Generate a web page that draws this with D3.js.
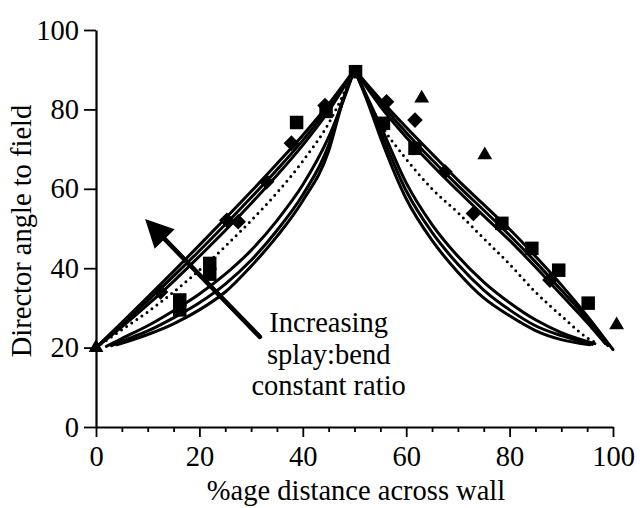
<!DOCTYPE html>
<html>
<head>
<meta charset="utf-8">
<script src="https://cdn.jsdelivr.net/npm/d3@7"></script>
<style>
  html, body { margin: 0; padding: 0; background: #fff; }
  svg { display: block; }
  text { font-family: "Liberation Serif", "Times New Roman", Times, serif; fill: #000; }
</style>
</head>
<body>
<svg id="chart" width="642" height="508"></svg>
<script>
// Model curves: director angle (deg) against position across the wall (%)
// Upper family (near-linear profiles)
const curveA1 = [[0,20],[5,26.3],[10,32.7],[15,39.2],[20,45.8],[25,52.5],[30,59.3],[35,66.3],[40,73.5],[45,81.3],[50,90],
                 [55,82.5],[60,75.5],[65,68.8],[70,62.2],[75,56],[80,49.8],[85,43],[90,35.8],[95,28],[100,19.5]];
const curveA2 = [[0,20],[5,25.8],[10,31.8],[15,38],[20,44.4],[25,51],[30,57.8],[35,64.8],[40,72.2],[45,80.5],[50,90],
                 [55,81.7],[60,74.2],[65,67.3],[70,60.8],[75,54.6],[80,48.3],[85,41.6],[90,34.5],[95,27.2],[99,20.5]];
const curveA3 = [[0,20],[5,25.2],[10,30.8],[15,36.7],[20,43],[25,49.5],[30,56.3],[35,63.4],[40,71],[45,79.6],[50,90],
                 [55,80.8],[60,73],[65,66],[70,59.5],[75,53.2],[80,47],[85,40.3],[90,33.3],[95,26.3],[98.5,21]];
// Intermediate profile (dotted)
const curveDotted = [[0,20],[5,24.5],[10,29],[15,34],[20,39.5],[25,45.5],[30,52],[35,59],[40,67],[45,76.5],[50,90],
                     [55,76.5],[60,67.5],[65,60],[70,54],[75,47.5],[80,41],[85,34],[90,28],[95,22.5],[97,21]];
// Lower family (strongly curved profiles)
const curveB1 = [[2,20.3],[5,22.3],[10,25.5],[15,29.3],[20,33.5],[25,38.5],[30,44.5],[35,52],[40,61],[45,73],[50,90],
                 [55,76],[60,61.5],[65,51],[70,43],[75,36.5],[80,31.3],[85,27],[90,23.8],[96.5,21]];
const curveB2 = [[3,20.5],[5,21.6],[10,24.2],[15,27.5],[20,31.3],[25,36],[30,42],[35,49.5],[40,58.5],[45,71],[47.5,81.5],[50,90],
                 [52.5,82.5],[55,74.5],[60,59.5],[65,49],[70,41],[75,34.5],[80,29.5],[85,25.5],[90,23],[96,20.8]];
const curveB3 = [[4,20.7],[10,23.3],[15,26],[20,29.5],[25,34],[30,40.5],[35,48],[40,57],[45,69.5],[47.5,81],[50,90],
                 [52.5,82],[55,73],[60,57.5],[65,47],[70,39],[75,32.5],[80,28],[85,24.3],[90,22],[95.5,20.7]];

// Measured director angles
const squarePoints = [[16.2,32],[16.2,29.5],[22,41.2],[22,38.5],[38.8,76.7],[44.5,79.5],[50.2,89.5],
                      [55.6,76.5],[61.7,70.2],[78.5,51.3],[84.3,45],[89.5,39.5],[95.2,31.2]];
const diamondPoints = [[12.5,34],[25.3,52.1],[27.5,51.7],[33,61.8],[37.8,71.5],[44.3,81],
                       [56.2,81.9],[61.7,77.3],[67.5,64.3],[73,53.8],[87.8,37]];
const trianglePoints = [[0,20],[63,82.8],[75.2,68.5],[100.7,25.7]];

// Axis ticks
const xMajorTicks = [0, 20, 40, 60, 80, 100];
const xMinorTicks = [5, 10, 15, 25, 30, 35, 45, 50, 55, 65, 70, 75, 85, 90, 95];
const yTicks = [0, 20, 40, 60, 80, 100];

// Labels
const xTitle = "%age distance across wall";
const yTitle = "Director angle to field";
const noteLines = ["Increasing", "splay:bend", "constant ratio"];
const arrowFrom = [31.7, 22.7];
const arrowTo = [9.5, 52.4];
const noteAnchor = [45, 23.9];

const W = 642, H = 508;
const margin = { left: 96, right: 29, top: 30, bottom: 81 };
const FS = 28.5;

const svg = d3.select("#chart");
const x = d3.scaleLinear().domain([0, 100]).range([margin.left, W - margin.right]);
const y = d3.scaleLinear().domain([0, 100]).range([H - margin.bottom, margin.top]);

// axes
svg.append("g").attr("transform", `translate(0,${y(0)})`)
  .call(d3.axisBottom(x).tickValues(xMajorTicks).tickSize(10).tickPadding(9).tickSizeOuter(0).tickFormat(d3.format("d")));
const gxMinor = svg.append("g").attr("transform", `translate(0,${y(0)})`)
  .call(d3.axisBottom(x).tickValues(xMinorTicks).tickSize(5).tickSizeOuter(0).tickFormat(""));
gxMinor.select(".domain").remove();
svg.append("g").attr("transform", `translate(${x(0)},0)`)
  .call(d3.axisLeft(y).tickValues(yTicks).tickSize(12).tickPadding(5).tickSizeOuter(0).tickFormat(d3.format("d")));

svg.selectAll(".domain").attr("stroke", "#000").attr("stroke-width", 2.2);
svg.selectAll(".tick line").attr("stroke", "#000").attr("stroke-width", 1.8);
svg.selectAll(".tick text").attr("font-size", FS).attr("font-family", null).attr("fill", "#000");

// axis titles
svg.append("text").attr("x", 356).attr("y", 500).attr("text-anchor", "middle")
  .attr("font-size", FS).text(xTitle);
svg.append("text").attr("transform", `translate(31,${231}) rotate(-90)`).attr("text-anchor", "middle")
  .attr("font-size", FS).text(yTitle);

// curves, drawn as two branches meeting at the mid-wall peak
const line = d3.line().x(d => x(d[0])).y(d => y(d[1])).curve(d3.curveMonotoneX);
function branches(c) {
  return [c.filter(d => d[0] <= 50), c.filter(d => d[0] >= 50)];
}
const plot = svg.append("g");
[curveA1, curveA2, curveA3, curveB1, curveB2, curveB3].forEach(c => {
  branches(c).forEach(b => {
    plot.append("path").attr("d", line(b)).attr("fill", "none")
      .attr("stroke", "#000").attr("stroke-width", 3).attr("stroke-linejoin", "round").attr("stroke-linecap", "round");
  });
});
branches(curveDotted).forEach(b => {
  plot.append("path").attr("d", line(b)).attr("fill", "none")
    .attr("stroke", "#000").attr("stroke-width", 3).attr("stroke-linecap", "round")
    .attr("stroke-dasharray", "0 6.2");
});

// data markers
const marks = svg.append("g");
marks.selectAll(".sq").data(squarePoints).join("path")
  .attr("transform", d => `translate(${x(d[0])},${y(d[1])})`)
  .attr("d", d3.symbol(d3.symbolSquare, 13.5 * 13.5)).attr("fill", "#000");
marks.selectAll(".dm").data(diamondPoints).join("path")
  .attr("transform", d => `translate(${x(d[0])},${y(d[1])}) rotate(45)`)
  .attr("d", d3.symbol(d3.symbolSquare, 11 * 11)).attr("fill", "#000");
marks.selectAll(".tr").data(trianglePoints).join("path")
  .attr("transform", d => `translate(${x(d[0])},${y(d[1])})`)
  .attr("d", d3.symbol(d3.symbolTriangle, 95)).attr("fill", "#000");

// annotation arrow
const ax0 = x(arrowFrom[0]), ay0 = y(arrowFrom[1]);
const ax1 = x(arrowTo[0]), ay1 = y(arrowTo[1]);
const len = Math.hypot(ax1 - ax0, ay1 - ay0);
const ux = (ax1 - ax0) / len, uy = (ay1 - ay0) / len;
const headLen = 28, headHalf = 14;
const bx = ax1 - ux * headLen, by = ay1 - uy * headLen;
svg.append("line").attr("x1", ax0).attr("y1", ay0).attr("x2", bx + ux * 4).attr("y2", by + uy * 4)
  .attr("stroke", "#000").attr("stroke-width", 4.6).attr("stroke-linecap", "round");
svg.append("path")
  .attr("d", `M${ax1},${ay1}L${bx - uy * headHalf},${by + ux * headHalf}L${bx + uy * headHalf},${by - ux * headHalf}Z`)
  .attr("fill", "#000");

// annotation text
const note = svg.append("text").attr("text-anchor", "middle").attr("font-size", FS);
noteLines.forEach((t, i) => {
  note.append("tspan").attr("x", x(noteAnchor[0])).attr("y", y(noteAnchor[1]) + i * 31.5).text(t);
});
</script>
</body>
</html>
